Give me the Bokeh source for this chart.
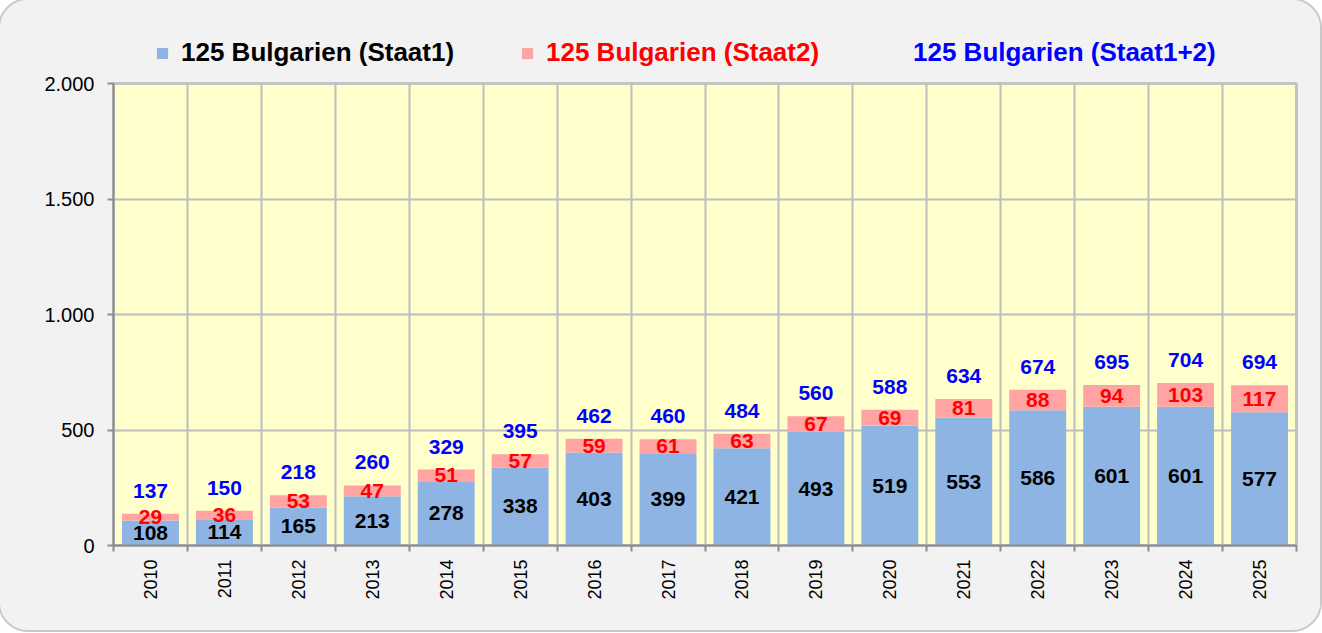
from bokeh.plotting import figure
from bokeh.layouts import column
from bokeh.models import ColumnDataSource, FixedTicker, Legend, LegendItem
from bokeh.core.properties import value
from bokeh.embed import file_html
from bokeh.resources import INLINE
import math

years = [2010, 2011, 2012, 2013, 2014, 2015, 2016, 2017, 2018, 2019, 2020, 2021, 2022, 2023, 2024, 2025]
staat1 = [108, 114, 165, 213, 278, 338, 403, 399, 421, 493, 519, 553, 586, 601, 601, 577]
staat2 = [29, 36, 53, 47, 51, 57, 59, 61, 63, 67, 69, 81, 88, 94, 103, 117]
total = [137, 150, 218, 260, 329, 395, 462, 460, 484, 560, 588, 634, 674, 695, 704, 694]
y_ticks = [0, 500, 1000, 1500, 2000]
y_tick_labels = ["0", "500", "1.000", "1.500", "2.000"]
series_names = ["125 Bulgarien (Staat1)", "125 Bulgarien (Staat2)", "125 Bulgarien (Staat1+2)"]

FONT = "Liberation Sans"
BLUE_BAR = "#8eb4e3"
PINK_BAR = "#ffa3a3"
BG = "#f2f2f2"

src = ColumnDataSource(dict(
    x=years,
    s1=staat1,
    s2=staat2,
    tot=total,
    s1_lab=[str(v) for v in staat1],
    s2_lab=[str(v) for v in staat2],
    tot_lab=[str(v) for v in total],
    s1_mid=[a / 2 for a in staat1],
    s2_bot=staat1,
    s2_top=[a + b for a, b in zip(staat1, staat2)],
    s2_mid=[a + b / 2 for a, b in zip(staat1, staat2)],
))

W = 1320
LEG_H = 68

# ---- main chart ----
p = figure(width=W, height=630 - LEG_H, output_backend="svg", toolbar_location=None,
           x_range=(years[0] - 0.5, years[-1] + 0.5), y_range=(0, 2000),
           min_border_left=113, min_border_right=24, min_border_top=83 - LEG_H, min_border_bottom=85)

p.background_fill_color = "#ffffcc"
p.border_fill_color = BG
p.outline_line_color = "#c4c4c4"
p.outline_line_width = 3

p.vbar(x="x", bottom=0, top="s1", width=0.77, source=src, fill_color=BLUE_BAR, line_color=None)
p.vbar(x="x", bottom="s2_bot", top="s2_top", width=0.77, source=src, fill_color=PINK_BAR, line_color=None)

p.text(x="x", y="s1_mid", text="s1_lab", source=src, text_align="center", text_baseline="middle",
       text_font=value(FONT), text_font_style="bold", text_font_size="21px", text_color="#000000")
p.text(x="x", y="s2_mid", text="s2_lab", source=src, text_align="center", text_baseline="middle",
       text_font=value(FONT), text_font_style="bold", text_font_size="21px", text_color="#ff0000")
p.text(x="x", y="tot", text="tot_lab", source=src, text_align="center", text_baseline="middle",
       y_offset=-23,
       text_font=value(FONT), text_font_style="bold", text_font_size="21px", text_color="#0000ff")

boundaries = [y - 0.5 for y in years] + [years[-1] + 0.5]
p.xaxis.ticker = FixedTicker(ticks=years, minor_ticks=boundaries)
p.xaxis.major_label_orientation = math.pi / 2
p.xaxis.major_tick_out = 0
p.xaxis.major_tick_in = 0
p.xaxis.minor_tick_out = 6
p.xaxis.minor_tick_in = 0
p.xaxis.minor_tick_line_color = "#8c8c8c"
p.xaxis.minor_tick_line_width = 2
p.xaxis.major_label_standoff = 8
p.xaxis.major_label_text_font = FONT
p.xaxis.major_label_text_font_size = "18px"
p.xaxis.major_label_text_color = "#000000"
p.xaxis.axis_line_color = "#8c8c8c"
p.xaxis.axis_line_width = 2

p.yaxis.ticker = FixedTicker(ticks=y_ticks, minor_ticks=[])
p.yaxis.major_label_overrides = {t: l for t, l in zip(y_ticks, y_tick_labels)}
p.yaxis.major_tick_out = 6
p.yaxis.major_tick_in = 0
p.yaxis.major_tick_line_color = "#8c8c8c"
p.yaxis.major_tick_line_width = 2
p.yaxis.major_label_standoff = 13
p.yaxis.major_label_text_font = FONT
p.yaxis.major_label_text_font_size = "20px"
p.yaxis.major_label_text_color = "#000000"
p.yaxis.axis_line_color = "#8c8c8c"
p.yaxis.axis_line_width = 2

p.xgrid.ticker = FixedTicker(ticks=boundaries)
p.xgrid.grid_line_color = "#bdbdbd"
p.xgrid.grid_line_width = 2
p.ygrid.ticker = FixedTicker(ticks=y_ticks)
p.ygrid.grid_line_color = "#bdbdbd"
p.ygrid.grid_line_width = 2

# ---- legend strip (frame covers the strip so nothing is clipped) ----
leg = figure(width=W, height=LEG_H, output_backend="svg", toolbar_location=None,
             x_axis_type=None, y_axis_type=None,
             x_range=(years[0] - 0.5, years[-1] + 0.5), y_range=(0, 2000),
             min_border=0, min_border_left=0, min_border_right=0, min_border_top=0, min_border_bottom=0)
leg.background_fill_color = BG
leg.border_fill_color = BG
leg.outline_line_color = None
leg.grid.visible = False
# same series, hidden in the strip: used only as legend swatches
l1 = leg.vbar(x="x", bottom=0, top="s1", width=0.77, source=src, fill_color=BLUE_BAR, line_color=None)
l2 = leg.vbar(x="x", bottom="s2_bot", top="s2_top", width=0.77, source=src, fill_color=PINK_BAR, line_color=None)
l3 = leg.vbar(x="x", bottom=0, top="tot", width=0.77, source=src, fill_alpha=0, line_alpha=0)
for r in (l1, l2, l3):
    r.visible = False

legend_specs = [
    (series_names[0], l1, "#000000", 42),
    (series_names[1], l2, "#ff0000", 407),
    (series_names[2], l3, "#0000ff", 774),
]
for name, rend, col, lx in legend_specs:
    lg = Legend(items=[LegendItem(label=name, renderers=[rend])], location=(lx, 0),
                orientation="horizontal", padding=0, margin=0, spacing=0,
                glyph_width=14, glyph_height=14, label_standoff=12,
                label_text_font=FONT, label_text_font_style="bold", label_text_font_size="26px",
                label_text_color=col, background_fill_alpha=0, border_line_alpha=0,
                inactive_fill_alpha=0)
    leg.add_layout(lg)

layout = column(leg, p, spacing=0)
layout.styles = {"border-radius": "28px", "overflow": "hidden", "outline": "2px solid #c8c8c8",
                 "background-color": BG}

open("out.html", "w").write(file_html(layout, INLINE))
